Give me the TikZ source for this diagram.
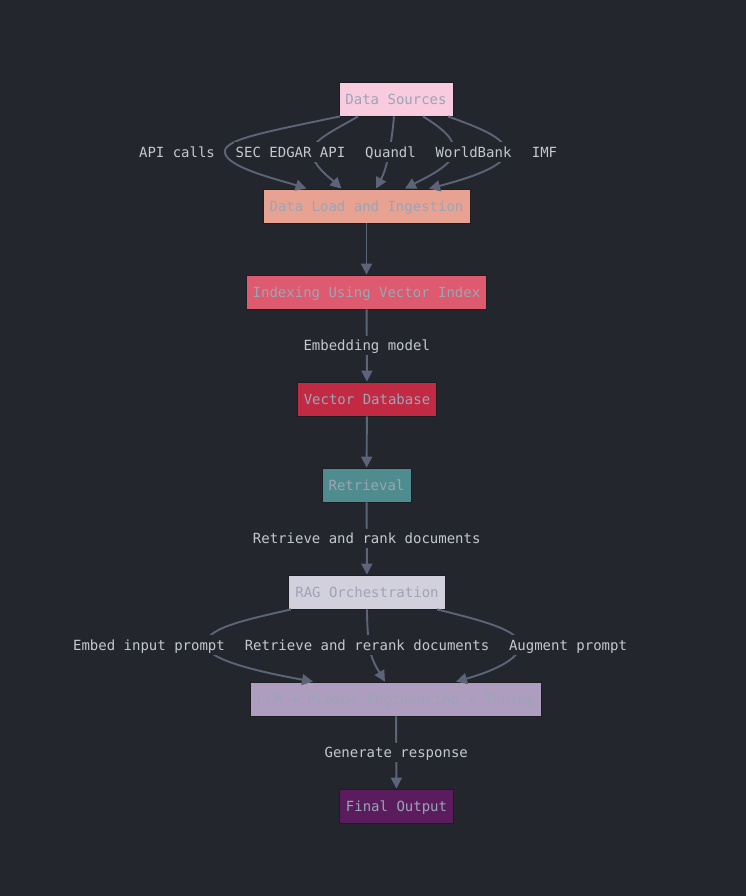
\documentclass[tikz,border=0pt]{standalone}
\usepackage{fontspec}
\newfontfamily\diagmono{DejaVu Sans Mono}
\definecolor{bgdark}{RGB}{36,38,46}
\definecolor{boxline}{RGB}{28,30,36}
\definecolor{boxtext}{RGB}{155,165,181}
\definecolor{lbltext}{RGB}{196,200,208}
\definecolor{edgegrey}{RGB}{92,100,119}
\definecolor{srcpink}{RGB}{249,203,222}
\definecolor{loadsalmon}{RGB}{232,162,146}
\definecolor{indexrose}{RGB}{222,90,110}
\definecolor{vdbred}{RGB}{194,42,68}
\definecolor{retteal}{RGB}{79,140,143}
\definecolor{raglilac}{RGB}{211,208,221}
\definecolor{llmmauve}{RGB}{174,157,191}
\definecolor{outplum}{RGB}{90,28,92}
\tikzset{every picture/.style={/utils/exec={\diagmono\fontsize{14bp}{17bp}\selectfont}}}
\usetikzlibrary{arrows.meta}
\tikzset{
  box/.style={draw=boxline, line width=0.8bp, minimum height=34bp, inner xsep=6.5bp,
    text height=12bp, text depth=1.1bp, text=boxtext},
  flow/.style={draw=edgegrey, line width=1.9bp, -{Triangle[length=11bp,width=11bp]}},
  lbl/.style={fill=bgdark, text=lbltext, inner xsep=2bp, inner ysep=3bp, text height=12bp, text depth=1.1bp},
}

\begin{document}
\begin{tikzpicture}[x=1bp, y=-1bp]
  \useasboundingbox [fill=bgdark] (0,0) rectangle (746,896);

  \node [box, fill=srcpink] (src) at (396,99) {Data Sources};
  \node [box, fill=loadsalmon] (load) at (366.5,206) {Data Load and Ingestion};
  \node [box, fill=indexrose] (index) at (366.5,292) {Indexing Using Vector Index};
  \node [box, fill=vdbred] (vdb) at (367,399) {Vector Database};
  \node [box, fill=retteal] (ret) at (366.5,485) {Retrieval};
  \node [box, fill=raglilac] (rag) at (367,592) {RAG Orchestration};
  \node [box, fill=llmmauve] (llm) at (396,699) {LLM + Prompt Engineering + Tuning};
  \node [box, fill=outplum] (out) at (396.5,806) {Final Output};

  % sources feeding the ingestion step
  \draw [flow] ([xshift=-56bp]src.south) .. controls (260,133) and (222,140) .. (225,153)
    .. controls (228,168) and (280,180) .. ([xshift=-60bp]load.north);
  \draw [flow] ([xshift=-38bp]src.south) .. controls (335,130) and (312,140) .. (312,152)
    .. controls (312,165) and (330,178) .. ([xshift=-25bp]load.north);
  \draw [flow] ([xshift=-2bp]src.south) .. controls (391,150) and (386,170) .. ([xshift=9.5bp]load.north);
  \draw [flow] ([xshift=27bp]src.south) .. controls (445,130) and (455,140) .. (454,152)
    .. controls (452,166) and (425,178) .. ([xshift=38.5bp]load.north);
  \draw [flow] ([xshift=52bp]src.south) .. controls (480,128) and (506,138) .. (506,152)
    .. controls (506,166) and (470,178) .. ([xshift=62.5bp]load.north);
  \node [lbl] (apicalls) at (177,152) {API calls};
  \node [lbl] (edgar) at (290.5,152) {SEC EDGAR API};
  \node [lbl] (quandl) at (390.5,152) {Quandl};
  \node [lbl] (worldbank) at (473.5,152) {WorldBank};
  \node [lbl] (imf) at (544.5,152) {IMF};

  \draw [flow] (load) -- (index);
  \draw [flow] (index) -- node [lbl] {Embedding model} (vdb);
  \draw [flow] (vdb) -- (ret);
  \draw [flow] (ret) -- node [lbl] {Retrieve and rank documents} (rag);

  % orchestration into the model
  \draw [flow] ([xshift=-76bp]rag.south) .. controls (245,620) and (205,628) .. (206,645)
    .. controls (207,660) and (260,672) .. ([xshift=-83bp]llm.north);
  \draw [flow] (rag.south) .. controls (367,625) and (368,635) .. (369,645)
    .. controls (371,660) and (378,670) .. ([xshift=-11bp]llm.north);
  \draw [flow] ([xshift=70bp]rag.south) .. controls (480,620) and (520,630) .. (520,645)
    .. controls (520,660) and (490,672) .. ([xshift=60bp]llm.north);
  \node [lbl] (embed) at (149,645) {Embed input prompt};
  \node [lbl] (rerank) at (367,645) {Retrieve and rerank documents};
  \node [lbl] (augment) at (568,645) {Augment prompt};

  \draw [flow] (llm) -- node [lbl] {Generate response} (out);

\end{tikzpicture}
\end{document}
